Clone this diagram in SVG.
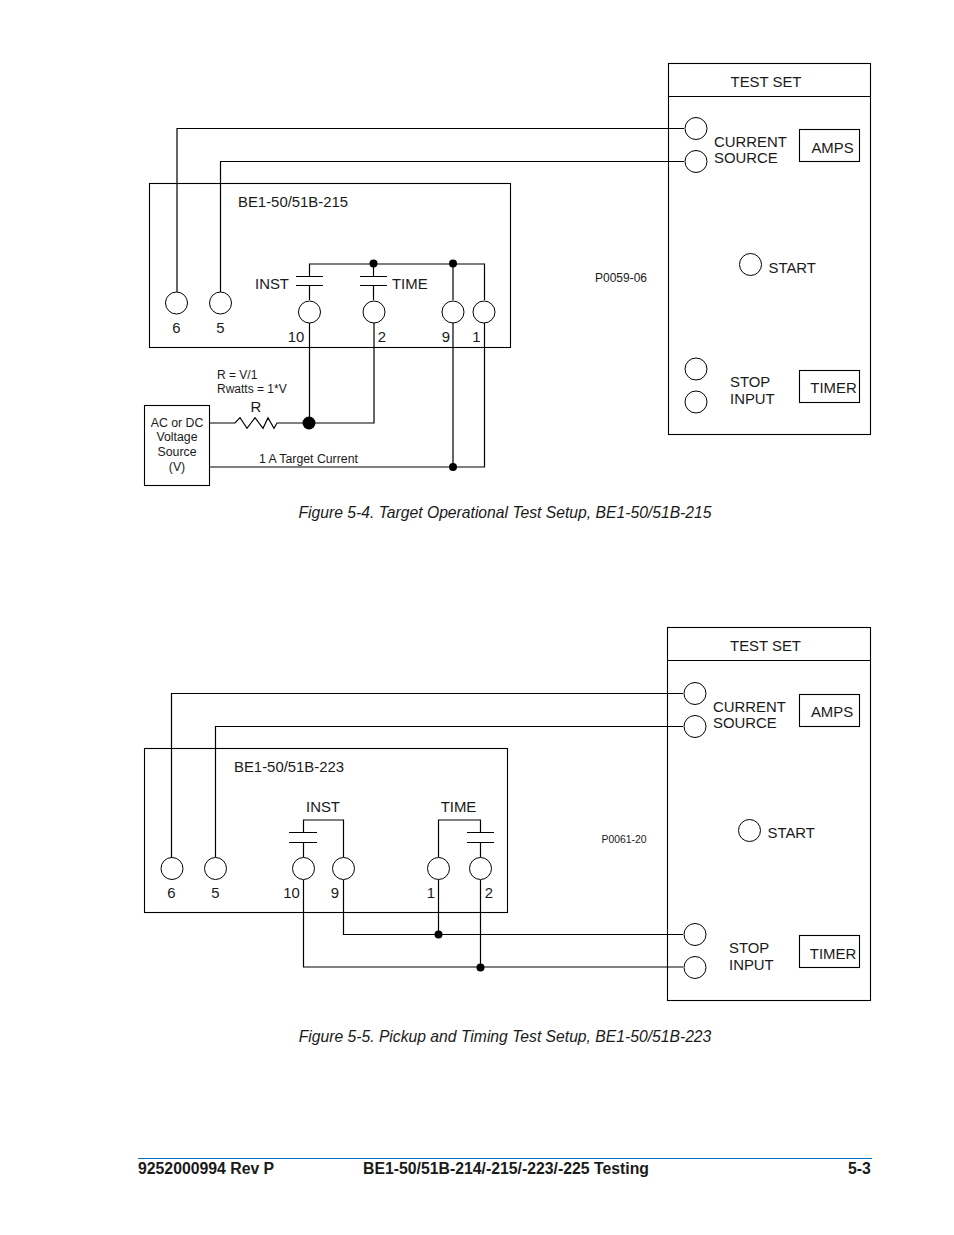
<svg xmlns="http://www.w3.org/2000/svg" width="954" height="1235" viewBox="0 0 954 1235">
<style>
text{font-family:"Liberation Sans",Arial,sans-serif;fill:#1a1a1a;font-size:14.9px}
.c{text-anchor:middle}
.s{font-size:12.3px}
.r{font-size:12px}
.xs{font-size:10.4px}
.cap{font-size:15.7px;font-style:italic}
.f{font-size:15.8px;font-weight:bold}
.b{fill:none;stroke:#000;stroke-width:1.1}
.t{fill:#fff;stroke:#000;stroke-width:1}
.w{fill:none;stroke:#000;stroke-width:1.2}
.d{fill:#000}
</style>
<rect width="954" height="1235" fill="#fff"/>
<g id="connectors-1">
<path class="w" d="M684 128.500H177V292M684 161.500H220.500V292"/>
<path class="w" d="M309.500 300V285.500M309.500 276.500V264H484.500V300M373.500 300V285.500M373.500 276.500V264M453 264V300"/>
<path class="w" d="M309.500 323V423M374 323V423H309M484.500 323V467H210M453 323V467"/>
<path class="w" d="M210 423H235L240 417.700L247 428.300L255 417.700L263 428.300L268 417.700L274 428.300L277 423H309"/>
<path class="w" d="M296 276.500H323M296 285.500H323M360 276.500H387M360 285.500H387"/>
<circle class="d" cx="373.500" cy="263.500" r="4"/><circle class="d" cx="453" cy="263.500" r="4"/>
<circle class="d" cx="309" cy="423" r="6.500"/><circle class="d" cx="453" cy="467" r="4"/>
</g>
<g id="relay-215">
<rect class="b" x="149.500" y="183.500" width="361" height="164"/>
<text x="238" y="206.500">BE1-50/51B-215</text>
<text x="255" y="289">INST</text><text x="392" y="289">TIME</text>
<circle class="t" cx="176.500" cy="303" r="11"/><circle class="t" cx="220.500" cy="303" r="11"/>
<circle class="t" cx="309.500" cy="312" r="11"/><circle class="t" cx="374" cy="312" r="11"/>
<circle class="t" cx="453" cy="312" r="11"/><circle class="t" cx="484" cy="312" r="11"/>
<text class="c" x="176.500" y="333">6</text><text class="c" x="220.500" y="333">5</text>
<text class="c" x="296" y="342">10</text><text class="c" x="382" y="342">2</text>
<text class="c" x="446" y="342">9</text><text class="c" x="476.500" y="342">1</text>
</g>
<g id="source-215">
<rect class="b" x="144.500" y="405.500" width="65" height="80"/>
<text class="c s" x="177" y="427">AC or DC</text><text class="c s" x="177" y="441">Voltage</text>
<text class="c s" x="177" y="456">Source</text><text class="c s" x="177" y="471">(V)</text>
</g>
<g id="labels-215">
<text class="r" x="217" y="378.500">R = V/1</text><text class="r" x="217" y="393">Rwatts = 1*V</text>
<text class="c" x="256" y="412">R</text><text class="s" x="259" y="463">1 A Target Current</text>
<text class="r" x="595" y="282">P0059-06</text>
</g>
<g id="testset-215">
<rect class="b" x="668.500" y="63.500" width="202" height="371"/><path class="b" d="M668.500 96.500H870.500"/>
<text class="c" x="766" y="87">TEST SET</text>
<circle class="t" cx="696" cy="128.500" r="11"/><circle class="t" cx="696" cy="161.500" r="11"/>
<text x="714" y="147">CURRENT</text><text x="714" y="162.500">SOURCE</text>
<rect class="b" x="799.500" y="129.500" width="60" height="32"/><text class="c" x="832.500" y="153">AMPS</text>
<circle class="t" cx="750.500" cy="264.500" r="11"/><text x="768.500" y="273">START</text>
<circle class="t" cx="696" cy="369" r="11"/><circle class="t" cx="696" cy="402" r="11"/>
<text x="730" y="387">STOP</text><text x="730" y="404">INPUT</text>
<rect class="b" x="799.500" y="370.500" width="60" height="32"/><text class="c" x="833.500" y="393">TIMER</text>
</g>
<text id="caption-1" class="c cap" x="505" y="518">Figure 5-4. Target Operational Test Setup, BE1-50/51B-215</text>
<g id="connectors-2">
<path class="w" d="M683 693.500H171.500V857M683 726.500H215.500V857"/>
<path class="w" d="M303.500 857V842.500M303.500 832.500V820H343.500V857M438.500 857V820H480.500V832.500M480.500 842.500V857"/>
<path class="w" d="M289 832.500H317M289 842.500H317M467 832.500H494M467 842.500H494"/>
<path class="w" d="M303.500 880V967H683M343.500 880V934.500H683M438.500 880V934.500M480.500 880V967"/>
<circle class="d" cx="438.500" cy="934.500" r="4"/><circle class="d" cx="480.500" cy="967.500" r="4"/>
</g>
<g id="relay-223">
<rect class="b" x="144.500" y="748.500" width="363" height="164"/>
<text x="234" y="772">BE1-50/51B-223</text>
<text class="c" x="323" y="812">INST</text><text class="c" x="458.500" y="812">TIME</text>
<circle class="t" cx="172" cy="868.500" r="11"/><circle class="t" cx="215.500" cy="868.500" r="11"/>
<circle class="t" cx="303.500" cy="868.500" r="11"/><circle class="t" cx="343.500" cy="868.500" r="11"/>
<circle class="t" cx="438.500" cy="868.500" r="11"/><circle class="t" cx="480.500" cy="868.500" r="11"/>
<text class="c" x="171.500" y="898">6</text><text class="c" x="215.500" y="898">5</text>
<text class="c" x="291.500" y="898">10</text><text class="c" x="335" y="898">9</text>
<text class="c" x="431" y="898">1</text><text class="c" x="489" y="898">2</text>
</g>
<text id="label-p0061" class="xs" x="601.500" y="843">P0061-20</text>
<g id="testset-223">
<rect class="b" x="667.500" y="627.500" width="203" height="373"/><path class="b" d="M667.500 660.500H870.500"/>
<text class="c" x="765.500" y="651">TEST SET</text>
<circle class="t" cx="695" cy="693.500" r="11"/><circle class="t" cx="695" cy="726.500" r="11"/>
<text x="713" y="712">CURRENT</text><text x="713" y="727.500">SOURCE</text>
<rect class="b" x="799.500" y="694.500" width="60" height="32"/><text class="c" x="832" y="717">AMPS</text>
<circle class="t" cx="749.500" cy="830.500" r="11"/><text x="767.500" y="838">START</text>
<circle class="t" cx="695" cy="934.500" r="11"/><circle class="t" cx="695" cy="967.500" r="11"/>
<text x="729" y="953">STOP</text><text x="729" y="970">INPUT</text>
<rect class="b" x="799.500" y="935.500" width="60" height="32"/><text class="c" x="833" y="959">TIMER</text>
</g>
<text id="caption-2" class="c cap" x="505" y="1042">Figure 5-5. Pickup and Timing Test Setup, BE1-50/51B-223</text>
<g id="footer">
<path d="M138 1158.500H872" stroke="#0070c0" stroke-width="1.200" fill="none"/>
<text class="f" x="138" y="1174">9252000994 Rev P</text>
<text class="f" x="363" y="1174">BE1-50/51B-214/-215/-223/-225 Testing</text>
<text class="f" x="848" y="1174">5-3</text>
</g>
</svg>
